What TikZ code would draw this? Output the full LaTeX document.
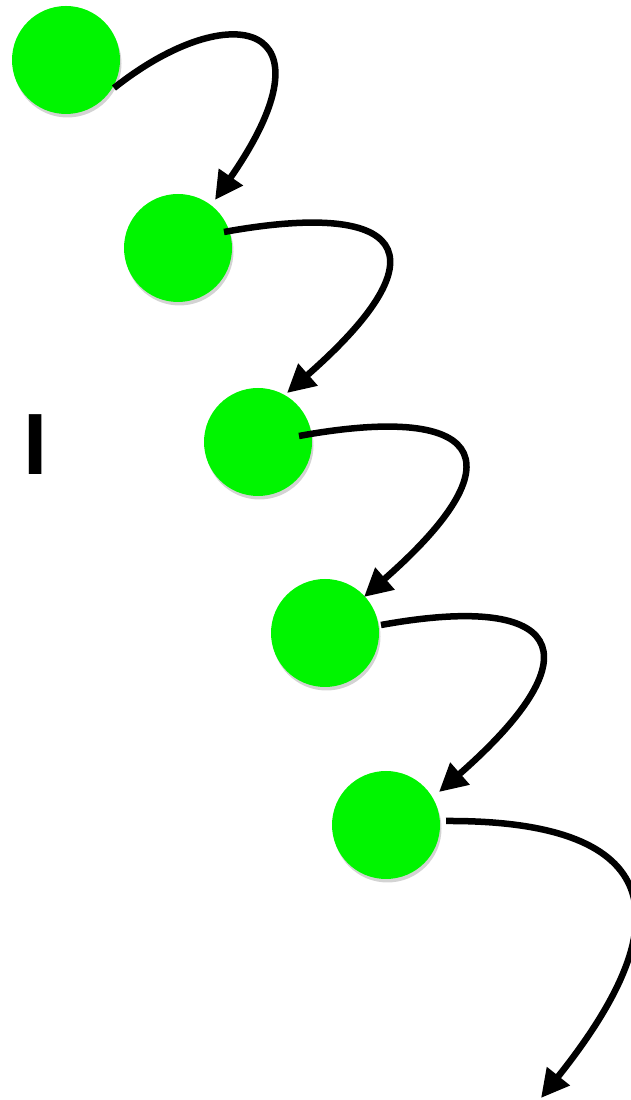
\documentclass[tikz,border=0pt]{standalone}
\usepackage{fontspec}
\setsansfont{Liberation Sans}
\usetikzlibrary{arrows.meta,shadows,calc}
\definecolor{ballgreen}{RGB}{0,245,0}
\tikzset{ball/.style={circle, fill=ballgreen, minimum size=108pt, inner sep=0pt, drop shadow={shadow xshift=1.5pt, shadow yshift=-3.5pt, opacity=0.35}}}
\tikzset{hopline/.style={line width=6.5pt, -{Triangle[length=28pt,width=28pt]}}}

\begin{document}
\begin{tikzpicture}[x=1pt,y=1pt]
    \useasboundingbox (0,0) rectangle (631,1100);
    \node[ball] at (66,1040) (b1) {};
    \node[ball] at (178,852) (b2) {};
    \node[ball] at (258,658) (b3) {};
    \node[ball] at (325,467) (b4) {};
    \node[ball] at (386,275) (b5) {};
    \node[inner sep=0pt, font=\sffamily\bfseries\fontsize{87}{87}\selectfont] at (35.5,655) (mark) {I};
    \coordinate (out) at (541,2);
    \draw [hopline] ($(b1)+(48,-28)$) .. controls +(116,92) and +(125,180) .. ($(b2)+(37,48)$);
    \draw [hopline] ($(b2)+(46,16)$) .. controls +(176,32) and +(163,143) .. ($(b3)+(29,49)$);
    \draw [hopline] ($(b3)+(41,6)$) .. controls +(176,32) and +(163,143) .. ($(b4)+(39,36)$);
    \draw [hopline] ($(b4)+(56,8)$) .. controls +(176,32) and +(163,143) .. ($(b5)+(53,33)$);
    \draw [hopline] ($(b5)+(60,4)$) .. controls +(194,1) and +(159,199) .. (out);
\end{tikzpicture}
\end{document}
